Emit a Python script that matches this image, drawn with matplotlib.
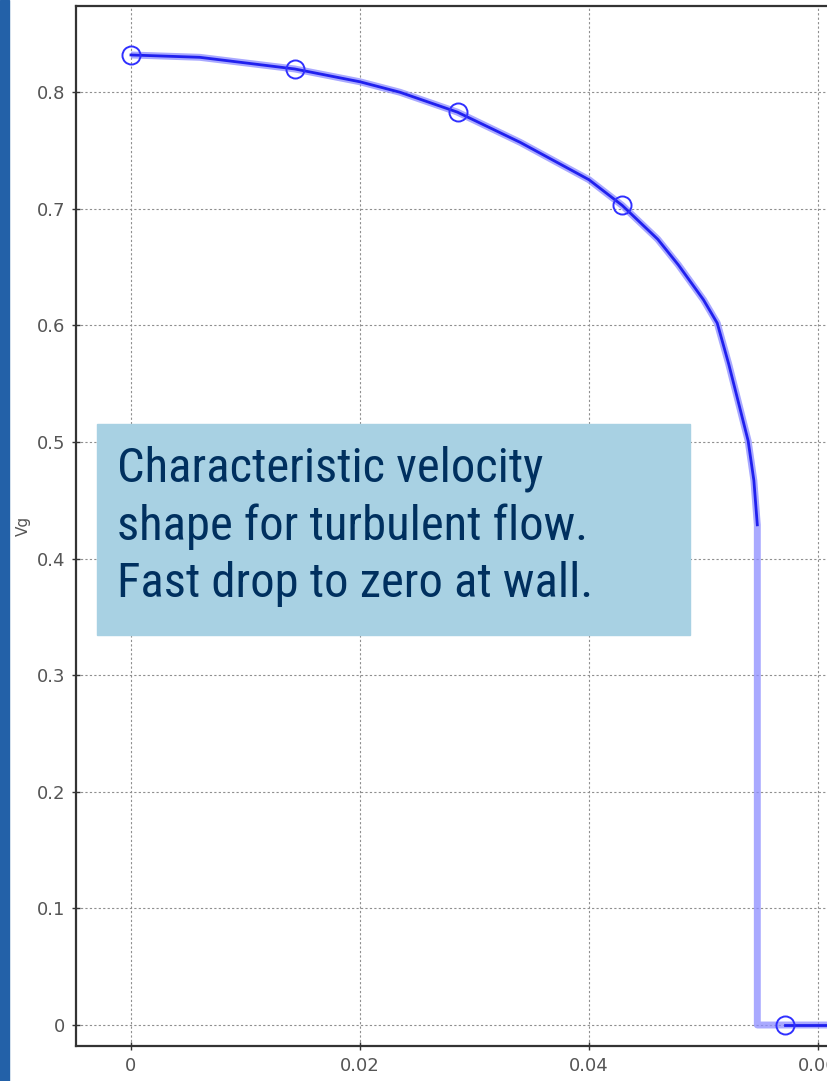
import matplotlib
matplotlib.use("Agg")
import matplotlib.pyplot as plt
from matplotlib.patches import Rectangle
from matplotlib import font_manager

# velocity profile (radius in m, Vg)
curve_r = [0.0, 0.0060, 0.0143, 0.0200, 0.0235, 0.0285, 0.0340, 0.0400,
           0.0429, 0.0460, 0.0478, 0.0500, 0.0512, 0.0522, 0.0530, 0.0539,
           0.0544, 0.0547, 0.0547, 0.0571, 0.0700]
curve_v = [0.832, 0.830, 0.820, 0.809, 0.800, 0.783, 0.757, 0.725,
           0.703, 0.674, 0.652, 0.622, 0.602, 0.567, 0.536, 0.501,
           0.467, 0.429, 0.0, 0.0, 0.0]

marker_r = [0.0, 0.0143, 0.0286, 0.0429, 0.0571]
marker_v = [0.832, 0.820, 0.783, 0.703, 0.0]

x_ticks = [0, 0.02, 0.04, 0.06]
x_labels = ["0", "0.02", "0.04", "0.06"]
y_ticks = [0, 0.1, 0.2, 0.3, 0.4, 0.5, 0.6, 0.7, 0.8]
y_labels = ["0", "0.1", "0.2", "0.3", "0.4", "0.5", "0.6", "0.7", "0.8"]

note = "Characteristic velocity\nshape for turbulent flow.\nFast drop to zero at wall."

W, H = 827, 1081
fig = plt.figure(figsize=(W / 100, H / 100), dpi=100)
fig.patch.set_facecolor("white")

# blue slide strip on the left
fig.patches.append(Rectangle((0, 0), 9 / W, 1, transform=fig.transFigure,
                             color="#2361a8", zorder=0))

xmin, xmax = -0.0048, 0.065
px_per_unit = 229 / 0.02
left_px = 76
right_px = 131 + xmax * px_per_unit
ax = fig.add_axes([left_px / W, 35 / H, (right_px - left_px) / W, 1040 / H])
ax.set_xlim(xmin, xmax)
ax.set_ylim(-0.018, 0.874)

ax.grid(True, linestyle=(0, (2, 2)), color="#8f8f8f", linewidth=0.8)
ax.set_xticks(x_ticks)
ax.set_xticklabels(x_labels)
ax.set_yticks(y_ticks)
ax.set_yticklabels(y_labels)
ax.tick_params(direction="inout", length=6, width=1, color="#333333",
               labelsize=13, labelcolor="#555555", pad=5)
for s in ax.spines.values():
    s.set_color("#333333")
    s.set_linewidth(1.6)
ax.set_ylabel("Vg", fontsize=11, color="#555555")
ax.yaxis.set_label_coords((31 - left_px) / (right_px - left_px), 0.5)

# light underlay for the whole profile, darker line on the curved part
ax.plot(curve_r, curve_v, color="#8c8cff", linewidth=5, alpha=0.75,
        solid_capstyle="butt", zorder=3)
ax.plot(curve_r[:18], curve_v[:18], color="#2020ee", linewidth=2, zorder=4)
ax.plot(curve_r[19:], curve_v[19:], color="#2020ee", linewidth=2, zorder=4)
ax.plot(marker_r, marker_v, linestyle="none", marker="o", markersize=13,
        markerfacecolor="none", markeredgecolor="#3030ff",
        markeredgewidth=1.4, zorder=5, clip_on=False)

# condensed face for the note if one is installed
fonts = font_manager.fontManager.ttflist
names = {f.name for f in fonts}
note_kw = dict(family=["Liberation Sans"], fontsize=31, linespacing=1.4)
for cand in ["Liberation Sans Narrow", "Roboto Condensed", "Open Sans Condensed",
             "Noto Sans Condensed", "DejaVu Sans Condensed"]:
    if cand in names:
        note_kw = dict(family=[cand], fontsize=35, linespacing=1.3)
        break
else:
    for f in fonts:
        if f.name == "Liberation Sans" and "condensed" in str(f.stretch):
            note_kw = dict(family=["Liberation Sans"], fontstretch="condensed",
                           fontsize=35, linespacing=1.3)
            break

fig.patches.append(Rectangle((97 / W, 1 - 635 / H), (690 - 97) / W, (635 - 424) / H,
                             transform=fig.transFigure, color="#a8d1e3", zorder=10))
fig.text(117 / W, 1 - 446 / H, note, color="#00305f", va="top", ha="left",
         zorder=11, **note_kw)

fig.savefig("out.png", dpi=100)
